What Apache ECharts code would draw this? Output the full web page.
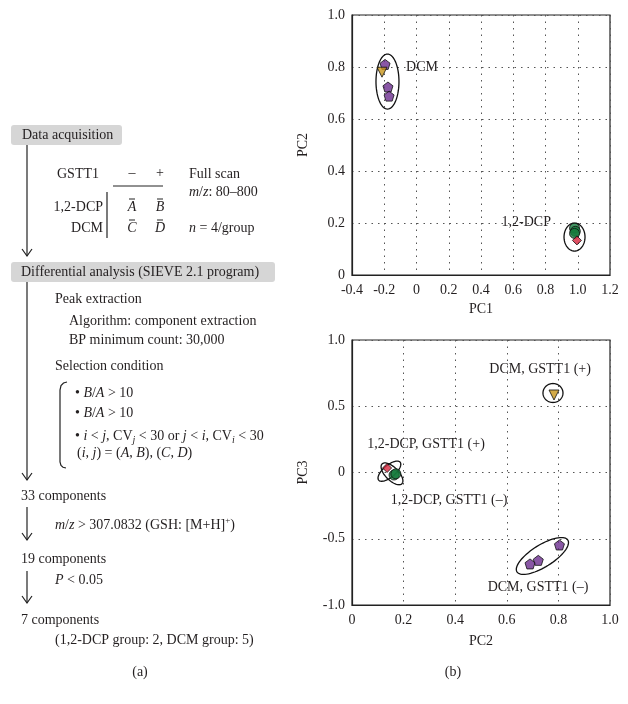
<!DOCTYPE html>
<html><head><meta charset="utf-8">
<script src="https://cdn.jsdelivr.net/npm/echarts@6/dist/echarts.min.js"></script>
<style>html,body{margin:0;padding:0;background:#fff}#c{width:628px;height:704px}</style>
</head><body><div id="c"></div>
<script>
// ---------- data ----------
const pc1Ticks = [-0.4, -0.2, 0, 0.2, 0.4, 0.6, 0.8, 1.0, 1.2];
const pc2TicksTop = [0, 0.2, 0.4, 0.6, 0.8, 1.0];
const pc2TicksBottom = [0, 0.2, 0.4, 0.6, 0.8, 1.0];
const pc3Ticks = [-1.0, -0.5, 0, 0.5, 1.0];

// (a) PC1 vs PC2
const top_DCM_minus = [[-0.195, 0.81], [-0.177, 0.723], [-0.17, 0.688]];
const top_DCM_plus = [[-0.214, 0.78]];
const top_DCP_minus = [[0.98, 0.18], [0.985, 0.168], [0.98, 0.16]];
const top_DCP_plus = [[0.995, 0.133]];
// (b) PC2 vs PC3
const bot_DCM_minus = [[0.804, -0.547], [0.722, -0.663], [0.69, -0.69]];
const bot_DCM_plus = [[0.783, 0.585]];
const bot_DCP_minus = [[0.163, -0.019], [0.17, -0.01]];
const bot_DCP_plus = [[0.136, 0.034]];

// group labels (anchor in data coords)
const topLabels = [[-0.065, 0.8, 'DCM', 'left'], [0.834, 0.204, '1,2-DCP', 'right']];
const botLabels = [
  [0.729, 0.78, 'DCM, GSTT1 (+)', 'center'],
  [0.287, 0.21, '1,2-DCP, GSTT1 (+)', 'center'],
  [0.376, -0.21, '1,2-DCP, GSTT1 (–)', 'center'],
  [0.721, -0.87, 'DCM, GSTT1 (–)', 'center']
];
// group ellipses: centre in data coords
const topEllipseCentres = [[-0.18, 0.744], [0.98, 0.146]];
const botEllipseCentres = [[0.779, 0.6], [0.145, 0.01], [0.155, -0.01], [0.738, -0.63]];

// ---------- styles ----------
const SERIF = 'Liberation Serif';
const FS = 14;
const TXT = '#231f20';
const topEllipseShape = [{a: 11.5, b: 27.5, ang: 0}, {a: 10.5, b: 14, ang: 0}];
const botEllipseShape = [{a: 10, b: 9.5, ang: 0}, {a: 14, b: 6, ang: 40}, {a: 14, b: 6.5, ang: -45}, {a: 30, b: 11, ang: 32}];

const PENT = 'path://M0,-1 L0.951,-0.309 L0.588,0.809 L-0.588,0.809 L-0.951,-0.309 Z';
const sPurple = {symbol: PENT, symbolSize: 10, itemStyle: {color: '#6b2d8e', borderColor: '#111', borderWidth: 1}};
const sGold = {symbol: 'triangle', symbolRotate: 180, symbolSize: 10, itemStyle: {color: '#c9961a', borderColor: '#111', borderWidth: 1}};
const sGreen = {symbol: 'circle', symbolSize: 10, itemStyle: {color: '#157a3c', borderColor: '#111', borderWidth: 1}};
const sRed = {symbol: 'diamond', symbolSize: 9, itemStyle: {color: '#d7263d', borderColor: '#111', borderWidth: 1}};

function fmt(v) { return Math.abs(v) < 1e-9 ? '0' : v.toFixed(1); }

function axis(grid, min, max, interval, name, nameGap, isY) {
  return {
    gridIndex: grid, type: 'value', min: min, max: max, interval: interval,
    name: name, nameLocation: 'middle', nameGap: nameGap,
    nameTextStyle: {fontFamily: SERIF, fontSize: FS, color: TXT},
    axisLine: {show: true, onZero: false, lineStyle: {color: '#222', width: 1.2}},
    axisTick: {show: false},
    axisLabel: {formatter: fmt, fontFamily: SERIF, fontSize: FS, color: TXT, margin: isY ? 7 : 8},
    splitLine: {show: true, lineStyle: {type: [1.5, 5], color: '#555', width: 1}}
  };
}

function scatter(data, sty, gi) {
  return Object.assign({type: 'scatter', xAxisIndex: gi, yAxisIndex: gi, data: data, z: 5}, sty);
}

function ellipseSeries(centres, shapes, gi) {
  return {
    type: 'custom', xAxisIndex: gi, yAxisIndex: gi, data: centres, z: 3, silent: true,
    renderItem: function (params, api) {
      const c = api.coord([api.value(0), api.value(1)]);
      const s = shapes[params.dataIndex];
      const th = s.ang * Math.PI / 180;
      const pts = [];
      for (let k = 0; k < 72; k++) {
        const t = k / 72 * Math.PI * 2;
        const ex = s.a * Math.cos(t), ey = s.b * Math.sin(t);
        pts.push([c[0] + ex * Math.cos(th) - ey * Math.sin(th), c[1] - (ex * Math.sin(th) + ey * Math.cos(th))]);
      }
      return {type: 'polygon', shape: {points: pts}, style: {fill: 'none', stroke: '#111', lineWidth: 1.3}};
    }
  };
}

function labelSeries(labels, gi) {
  return {
    type: 'custom', xAxisIndex: gi, yAxisIndex: gi, data: labels.map(l => [l[0], l[1]]), z: 6, silent: true,
    renderItem: function (params, api) {
      const c = api.coord([api.value(0), api.value(1)]);
      const l = labels[params.dataIndex];
      return {type: 'text', x: c[0], y: c[1], style: {text: l[2], fontFamily: SERIF, fontSize: FS, fill: TXT, align: l[3], verticalAlign: 'middle'}};
    }
  };
}

// ---------- left panel (flow chart) ----------
const g = [];
function rs(extra) { return Object.assign({fontFamily: SERIF, fontSize: FS, fill: TXT, lineHeight: 18}, extra || {}); }
const RICH = {
  i: rs({fontStyle: 'italic'}),
  s: {fontFamily: SERIF, fontSize: 10, fontStyle: 'italic', fill: TXT, lineHeight: 10, verticalAlign: 'bottom'},
  sup: {fontFamily: SERIF, fontSize: 9, fill: TXT, lineHeight: 10, verticalAlign: 'top'}
};
function T(x, y, text, align, italic) {
  g.push({type: 'text', x: x, y: y, z: 10, style: {text: text, fontFamily: SERIF, fontSize: FS, fontStyle: italic ? 'italic' : 'normal',
    fill: TXT, align: align || 'left', verticalAlign: 'middle', lineHeight: 18, rich: RICH}});
}
function L(x1, y1, x2, y2, w) {
  g.push({type: 'line', z: 10, shape: {x1: x1, y1: y1, x2: x2, y2: y2}, style: {stroke: '#222', lineWidth: w || 1}});
}
function arrow(x, y1, y2) {
  L(x, y1, x, y2, 1.2);
  g.push({type: 'polyline', z: 10, shape: {points: [[x - 5, y2 - 7], [x, y2], [x + 5, y2 - 7]]}, style: {stroke: '#222', lineWidth: 1.2, fill: 'none'}});
}
function box(x, y, w, h) {
  g.push({type: 'rect', z: 9, shape: {x: x, y: y, width: w, height: h, r: 3}, style: {fill: '#d6d6d6'}});
}

box(11, 125, 111, 20);
T(22, 135, 'Data acquisition');
arrow(27, 145, 256);
T(57, 174, 'GSTT1');
T(132, 173, '–', 'center');
T(160, 173, '+', 'center');
T(189, 174, 'Full scan');
L(113, 186, 163, 186, 1);
T(189, 192, '{i|m}/{i|z}: 80–800');
T(103, 207, '1,2-DCP', 'right');
L(107, 192, 107, 238, 1.2);
T(132, 207, 'A', 'center', true); L(129, 199, 135, 199, 1);
T(160, 207, 'B', 'center', true); L(157, 199, 163, 199, 1);
T(103, 228, 'DCM', 'right');
T(132, 228, 'C', 'center', true); L(129, 220, 135, 220, 1);
T(160, 228, 'D', 'center', true); L(157, 220, 163, 220, 1);
T(189, 228, '{i|n} = 4/group');

box(11, 262, 264, 20);
T(21, 272, 'Differential analysis (SIEVE 2.1 program)');
arrow(27, 282, 480);
T(55, 299, 'Peak extraction');
T(69, 321, 'Algorithm: component extraction');
T(69, 340, 'BP minimum count: 30,000');
T(55, 366, 'Selection condition');
g.push({type: 'polyline', z: 10, shape: {points: [[67, 382], [63.5, 383], [61, 385.5], [60, 390], [60, 462], [61, 465.5], [63, 467.3], [66, 468]]}, style: {stroke: '#222', lineWidth: 1.2, fill: 'none'}});
T(75, 393, '• {i|B}/{i|A} > 10');
T(75, 413, '• {i|B}/{i|A} > 10');
T(75, 436, '• {i|i} < {i|j}, CV{s|j} < 30 or {i|j} < {i|i}, CV{s|i} < 30');
T(77, 453, '({i|i}, {i|j}) = ({i|A}, {i|B}), ({i|C}, {i|D})');
T(21, 496, '33 components');
arrow(27, 507, 540);
T(55, 525, '{i|m}/{i|z} > 307.0832 (GSH: [M+H]{sup|+})');
T(21, 559, '19 components');
arrow(27, 571, 603);
T(55, 580, '{i|P} < 0.05');
T(21, 620, '7 components');
T(55, 640, '(1,2-DCP group: 2, DCM group: 5)');
T(140, 672, '(a)', 'center');
T(453, 672, '(b)', 'center');

// ---------- chart ----------
const chart = echarts.init(document.getElementById('c'), null, {renderer: 'canvas'});
chart.setOption({
  backgroundColor: '#fff',
  animation: false,
  textStyle: {fontFamily: SERIF},
  grid: [
    {left: 352, top: 15, width: 258, height: 260, show: true, borderColor: '#222', borderWidth: 1.2},
    {left: 352, top: 340, width: 258, height: 265, show: true, borderColor: '#222', borderWidth: 1.2}
  ],
  xAxis: [
    axis(0, pc1Ticks[0], pc1Ticks[pc1Ticks.length - 1], 0.2, 'PC1', 27, false),
    axis(1, pc2TicksBottom[0], pc2TicksBottom[pc2TicksBottom.length - 1], 0.2, 'PC2', 29, false)
  ],
  yAxis: [
    axis(0, pc2TicksTop[0], pc2TicksTop[pc2TicksTop.length - 1], 0.2, 'PC2', 42, true),
    axis(1, pc3Ticks[0], pc3Ticks[pc3Ticks.length - 1], 0.5, 'PC3', 42, true)
  ],
  graphic: g,
  series: [
    ellipseSeries(topEllipseCentres, topEllipseShape, 0),
    scatter(top_DCM_minus, sPurple, 0),
    scatter(top_DCM_plus, sGold, 0),
    scatter(top_DCP_minus, sGreen, 0),
    scatter(top_DCP_plus, sRed, 0),
    labelSeries(topLabels, 0),
    ellipseSeries(botEllipseCentres, botEllipseShape, 1),
    scatter(bot_DCM_minus, sPurple, 1),
    scatter(bot_DCM_plus, sGold, 1),
    scatter(bot_DCP_minus, sGreen, 1),
    scatter(bot_DCP_plus, sRed, 1),
    labelSeries(botLabels, 1)
  ]
});
</script></body></html>
